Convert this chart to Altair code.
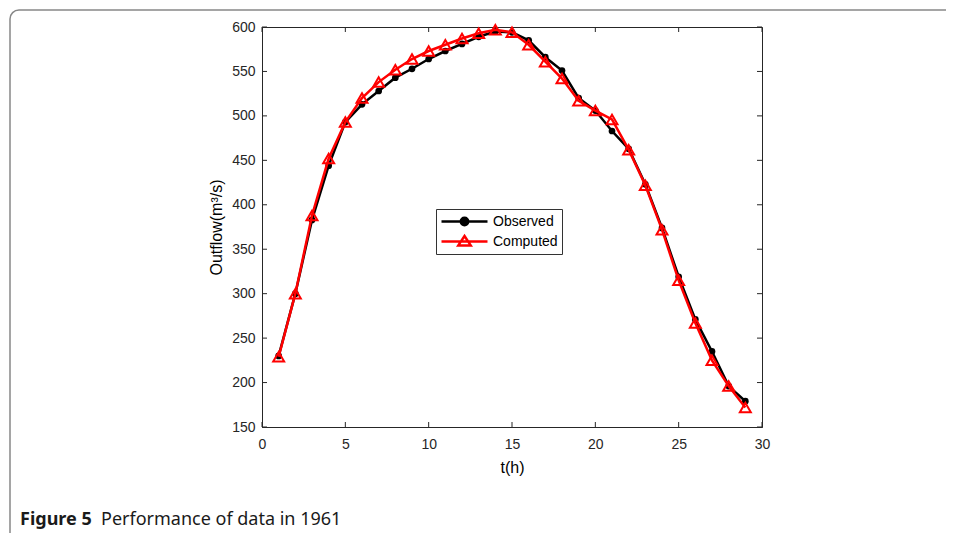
import altair as alt
import pandas as pd

# ---- data ----
t_hours = [1, 2, 3, 4, 5, 6, 7, 8, 9, 10, 11, 12, 13, 14, 15, 16, 17, 18, 19, 20,
           21, 22, 23, 24, 25, 26, 27, 28, 29]
observed = [230, 300, 383, 444, 493, 513, 528, 543, 553, 564, 573, 581, 589, 595, 594,
            585, 566, 551, 520, 506, 483, 463, 423, 374, 319, 271, 235, 196, 179]
computed = [229, 300, 388, 452, 493, 520, 538, 552, 564, 573, 580, 587, 593, 597, 594,
            580, 561, 542, 517, 506, 496, 462, 422, 372, 315, 267, 225, 196, 172]
series_names = ["Observed", "Computed"]
x_ticks = [0, 5, 10, 15, 20, 25, 30]
y_ticks = [150, 200, 250, 300, 350, 400, 450, 500, 550, 600]
caption_bold = "Figure 5"
caption_text = "Performance of data in 1961"

W, H = 500, 400
AX = "#262626"

obs_df = pd.DataFrame({"t": t_hours, "v": observed})
comp_df = pd.DataFrame({"t": t_hours, "v": computed})
long_df = pd.DataFrame({
    "t": t_hours * 2,
    "v": observed + computed,
    "series": ["Observed"] * len(t_hours) + ["Computed"] * len(t_hours),
})

xs = alt.Scale(domain=[0, 30], nice=False, zero=False)
ys = alt.Scale(domain=[150, 600], nice=False, zero=False)

X = alt.X("t:Q", scale=xs, title="t(h)",
          axis=alt.Axis(values=x_ticks, ticks=False, grid=False, labelPadding=10,
                        labelFlush=False, titlePadding=8))
Y = alt.Y("v:Q", scale=ys, title="Outflow(m³/s)",
          axis=alt.Axis(values=y_ticks, ticks=False, grid=False, labelPadding=7,
                        labelFlush=False, titlePadding=7))

obs_line = alt.Chart(obs_df).mark_line(color="black", strokeWidth=2.5).encode(x=X, y=Y)
obs_pts = alt.Chart(obs_df).mark_point(filled=True, color="black", size=45, opacity=1).encode(x="t:Q", y="v:Q")
comp_line = alt.Chart(comp_df).mark_line(color="#ff0000", strokeWidth=2.5).encode(x="t:Q", y="v:Q")
comp_pts = alt.Chart(comp_df).mark_point(shape="triangle-up", filled=False, color="#ff0000",
                                         size=120, strokeWidth=2, opacity=1).encode(x="t:Q", y="v:Q")

# legend (symbols only, from an empty layer)
circ = "M-1,0L1,0M0.16,0A0.16,0.16,0,1,1,-0.16,0A0.16,0.16,0,1,1,0.16,0Z"
tri = "M-1,0L1,0M0,-0.24L0.27,0.17L-0.27,0.17Z"
legend_layer = alt.Chart(long_df).transform_filter("false").mark_point(filled=True, strokeWidth=2.5).encode(
    shape=alt.Shape("series:N", scale=alt.Scale(domain=series_names, range=[circ, tri]),
                    legend=alt.Legend(title=None, orient="none", legendX=174, legendY=182,
                                      symbolSize=2116, symbolStrokeWidth=2.5, clipHeight=17,
                                      rowPadding=3, padding=4, labelOffset=4,
                                      labelFont="Liberation Sans", labelFontSize=14,
                                      labelColor="black", strokeColor="#333333",
                                      fillColor="white", symbolOpacity=1)),
    fill=alt.Fill("series:N", scale=alt.Scale(domain=series_names, range=["black", "transparent"])),
    stroke=alt.Stroke("series:N", scale=alt.Scale(domain=series_names, range=["black", "#ff0000"])),
)

xt_df = pd.DataFrame({"t": x_ticks})
yt_df = pd.DataFrame({"v": y_ticks})
xt_bottom = alt.Chart(xt_df).mark_rule(color=AX, strokeWidth=1).encode(
    x="t:Q", y=alt.value(H), y2=alt.value(H - 5))
xt_top = alt.Chart(xt_df).mark_rule(color=AX, strokeWidth=1).encode(
    x="t:Q", y=alt.value(0), y2=alt.value(5))
yt_left = alt.Chart(yt_df).mark_rule(color=AX, strokeWidth=1).encode(
    y="v:Q", x=alt.value(0), x2=alt.value(5))
yt_right = alt.Chart(yt_df).mark_rule(color=AX, strokeWidth=1).encode(
    y="v:Q", x=alt.value(W), x2=alt.value(W - 5))

one = pd.DataFrame({"k": [0]})
border = alt.Chart(one).mark_rect(fill="transparent", stroke="#888888", strokeWidth=1.5,
                                  cornerRadius=9).encode(
    x=alt.value(-252), x2=alt.value(780), y=alt.value(-17), y2=alt.value(530))
cap1 = alt.Chart(one).mark_text(text=caption_bold, font="Noto Sans", fontSize=18, fontWeight="bold",
                                align="left", baseline="middle", color="#1a1a1a").encode(
    x=alt.value(-242), y=alt.value(493))
cap2 = alt.Chart(one).mark_text(text=caption_text, font="Noto Sans", fontSize=18, fontWeight="normal",
                                align="left", baseline="middle", color="#1a1a1a").encode(
    x=alt.value(-161), y=alt.value(493))

chart = alt.layer(
    border, cap1, cap2,
    xt_bottom, xt_top, yt_left, yt_right,
    obs_line, obs_pts, comp_line, comp_pts, legend_layer,
).resolve_scale(shape="independent", fill="independent", stroke="independent").properties(
    width=W, height=H,
    autosize=alt.AutoSizeParams(type="none"),
    padding={"left": 254, "top": 19, "right": 184, "bottom": 106},
).configure_view(stroke=AX, strokeWidth=1).configure_axis(
    labelFont="Liberation Sans", labelFontSize=14, labelColor=AX,
    titleFont="Liberation Sans", titleFontSize=16, titleFontWeight="normal", titleColor="black",
    domainColor=AX, domainWidth=1,
)

chart.save("out.html", embed_options={"renderer": "svg", "actions": False})
